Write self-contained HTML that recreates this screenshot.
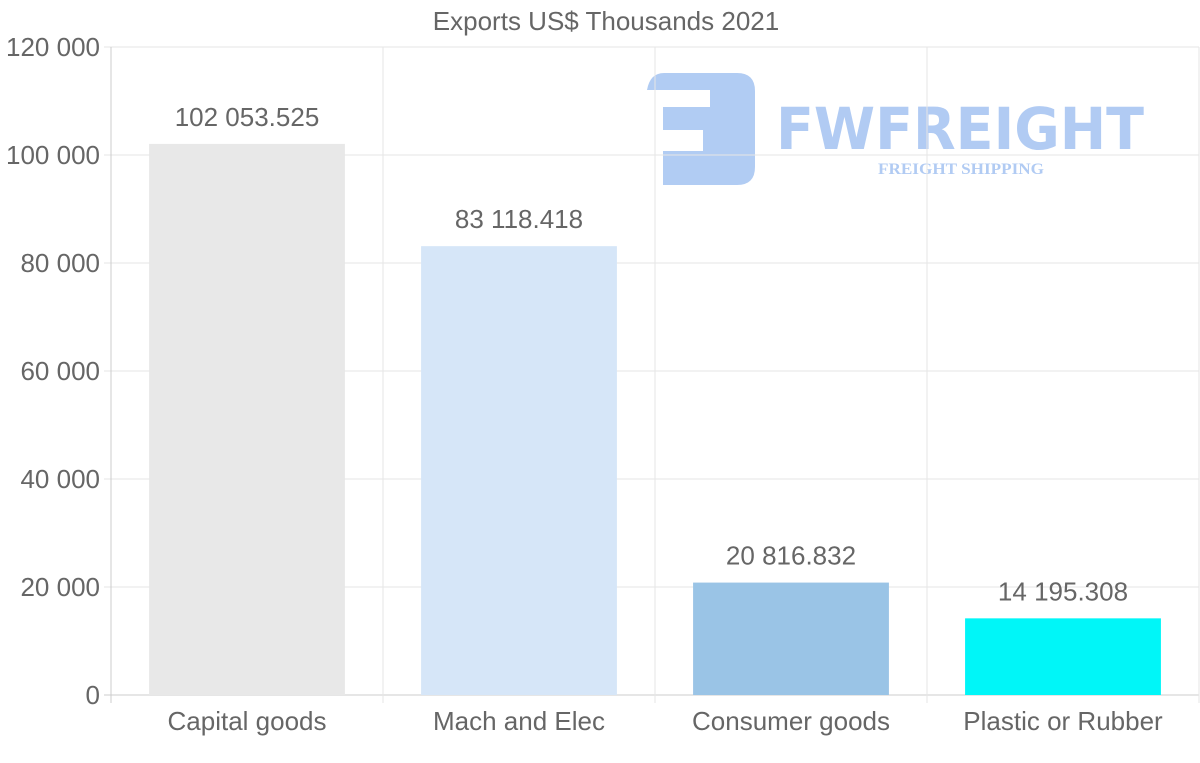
<!DOCTYPE html>
<html><head><meta charset="utf-8"><style>
html,body{margin:0;padding:0;background:#fff;width:1200px;height:763px;overflow:hidden;font-family:"Liberation Sans",sans-serif;}
svg{display:block}
</style></head><body>
<svg id="chart" width="1200" height="763" xmlns="http://www.w3.org/2000/svg">
<text x="606" y="30" text-anchor="middle" font-size="26" fill="#666">Exports US$ Thousands 2021</text>
<g opacity="0.9">
<path d="M664,73 H737 Q755,73 755,91 V167 Q755,185 737,185 H663 V151 H703 V130 H663 V107 H710 V90 H647 Q650,73 664,73 Z" fill="#a9c6f2"/>
<text x="776" y="149" font-size="58" font-weight="bold" fill="#a9c6f2" font-family="'DejaVu Sans',sans-serif" textLength="368" lengthAdjust="spacingAndGlyphs">FWFREIGHT</text>
<text x="878" y="174" font-size="16" font-weight="bold" fill="#a9c6f2" font-family="'Liberation Serif',serif" textLength="166" lengthAdjust="spacingAndGlyphs">FREIGHT SHIPPING</text>
</g>
<g id="grid"></g><g id="bars"></g><g id="labels"></g>
</svg>
<script>
const categories=["Capital goods","Mach and Elec","Consumer goods","Plastic or Rubber"];
const values=[102053.525,83118.418,20816.832,14195.308];
const valueLabels=["102 053.525","83 118.418","20 816.832","14 195.308"];
const barColors=["#e8e8e8","#d6e6f8","#9ac4e6","#00f6f8"];
const yTicks=[0,20000,40000,60000,80000,100000,120000];
const yTickLabels=["0","20 000","40 000","60 000","80 000","100 000","120 000"];
const NS="http://www.w3.org/2000/svg";
const L=111,R=1199,T=47,B=695,yMax=120000;
const y=v=>B-(v/yMax)*(B-T);
const bandW=(R-L)/categories.length;
const xc=i=>L+bandW*(i+0.5);
function mk(tag,attrs,parent){const e=document.createElementNS(NS,tag);for(const k in attrs)e.setAttribute(k,attrs[k]);document.getElementById(parent).appendChild(e);return e;}
yTicks.forEach((t,i)=>{
 const g=mk('line',{x1:104,x2:R,y1:y(t),y2:y(t),stroke:i===0?'#ccc':'#e6e6e6','stroke-width':1},'grid');
 
 
 const tx=mk('text',{x:100,y:y(t)+9,'text-anchor':'end','font-size':26,fill:'#666'},'labels');
 tx.textContent=yTickLabels[i];
 
 
});
for(let i=0;i<=categories.length;i++){
 const gx=L+bandW*i;
 const g=mk('line',{x1:gx,x2:gx,y1:T,y2:B+8,stroke:i===0?'#ccc':'#e6e6e6','stroke-width':1},'grid');
 
 
}
categories.forEach((c,i)=>{
 const bw=bandW*0.72;
 const r=mk('rect',{x:xc(i)-bw/2,y:y(values[i]),width:bw,height:B-y(values[i]),fill:barColors[i]},'bars');
 
 
 const v=mk('text',{x:xc(i),y:y(values[i])-18,'text-anchor':'middle','font-size':26,fill:'#666'},'labels');
 v.textContent=valueLabels[i];
 
 
 const xl=mk('text',{x:xc(i),y:730,'text-anchor':'middle','font-size':26,fill:'#666'},'labels');
 xl.textContent=c;
 
 
});
</script>
</body></html>
